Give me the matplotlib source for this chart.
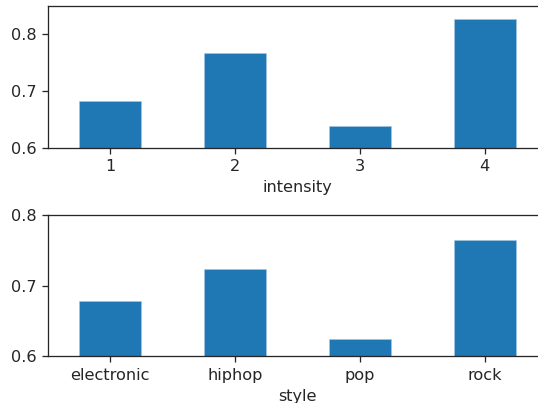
import matplotlib
matplotlib.use("Agg")
import matplotlib.pyplot as plt
import numpy as np

intensity_labels = ["1", "2", "3", "4"]
intensity_values = [0.682, 0.768, 0.638, 0.828]
style_labels = ["electronic", "hiphop", "pop", "rock"]
style_values = [0.678, 0.723, 0.625, 0.764]

plt.rcParams['font.family'] = ['DejaVu Sans']
plt.rcParams['text.color'] = '#262626'
plt.rcParams['axes.labelcolor'] = '#262626'
plt.rcParams['xtick.color'] = '#262626'
plt.rcParams['ytick.color'] = '#262626'
plt.rcParams['axes.edgecolor'] = '#262626'

DPI = 116
fig = plt.figure(figsize=(538 / DPI, 403 / DPI), dpi=DPI)
ax1 = fig.add_axes([0.0887, 0.6335, 1.017 - 0.0887, 0.985 - 0.6335])
ax2 = fig.add_axes([0.0887, 0.1159, 1.017 - 0.0887, 0.4672 - 0.1159])

def draw(ax, labels, values, xlabel, ylim, yticks):
    x = np.arange(len(labels))
    ax.bar(x, values, width=0.5, color='#1f77b4', edgecolor='#a6c8e3', linewidth=0.35)
    ax.set_xticks(x)
    ax.set_xticklabels(labels, rotation=0)
    ax.set_xlim(-0.5, len(labels) - 0.5)
    ax.set_ylim(*ylim)
    ax.set_yticks(yticks)
    ax.set_yticklabels([f"{t:.1f}" for t in yticks])
    ax.set_xlabel(xlabel)
    ax.spines['right'].set_visible(False)

draw(ax1, intensity_labels, intensity_values, "intensity", (0.6, 0.85), [0.6, 0.7, 0.8])
draw(ax2, style_labels, style_values, "style", (0.6, 0.8), [0.6, 0.7, 0.8])

fig.savefig("out.png", dpi=DPI)
